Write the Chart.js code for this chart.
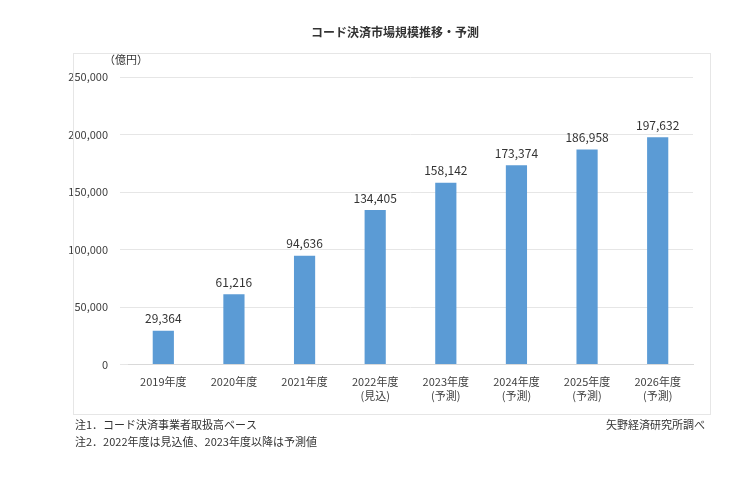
<!DOCTYPE html>
<html><head><meta charset="utf-8">
<script src="https://cdn.jsdelivr.net/npm/chart.js@4"></script>
<style>html,body{margin:0;background:#fff}#wrap{width:749px;height:478px}</style>
</head><body><div id="wrap"><canvas id="c"></canvas></div>
<script>
const years = ['2019年度', '2020年度', '2021年度', '2022年度', '2023年度', '2024年度', '2025年度', '2026年度'];
const subLabels = ['', '', '', '(見込)', '(予測)', '(予測)', '(予測)', '(予測)'];
const values = [29364, 61216, 94636, 134405, 158142, 173374, 186958, 197632];
const FONT = '"Noto Sans CJK JP", "Noto Sans", sans-serif';

const extras = {
    id: 'extras',
    afterDraw(chart) {
        const ctx = chart.ctx;
        ctx.save();
        ctx.fillStyle = '#333';
        ctx.textBaseline = 'middle';
        ctx.font = 'bold 12px ' + FONT;
        ctx.textAlign = 'center';
        ctx.fillText('コード決済市場規模推移・予測', 395, 32);
        ctx.font = '11px ' + FONT;
        ctx.textAlign = 'left';
        ctx.fillText('（億円）', 104, 60);
        ctx.fillText('注1．コード決済事業者取扱高ベース', 75, 425);
        ctx.fillText('注2．2022年度は見込値、2023年度以降は予測値', 75, 442);
        ctx.textAlign = 'right';
        ctx.fillText('矢野経済研究所調べ', 705, 425);
        // value labels above bars
        const meta = chart.getDatasetMeta(0);
        ctx.textAlign = 'center';
        ctx.font = '12px ' + FONT;
        meta.data.forEach((bar, i) => {
            ctx.fillText(values[i].toLocaleString('en-US'), bar.x, bar.y - 12);
        });
        ctx.strokeStyle = '#e6e6e6';
        ctx.lineWidth = 1;
        ctx.strokeRect(73.5, 53.5, 637, 361);
        ctx.restore();
    }
};

new Chart(document.getElementById('c'), {
    type: 'bar',
    data: {
        labels: years.map((y, i) => subLabels[i] ? [y, subLabels[i]] : y),
        datasets: [{
            data: values,
            backgroundColor: '#5B9BD5',
            barPercentage: 0.6,
            categoryPercentage: 0.5
        }]
    },
    plugins: [extras],
    options: {
        responsive: true,
        maintainAspectRatio: false,
        animation: false,
        layout: { padding: { left: 62, right: 56, top: 77, bottom: 73 } },
        plugins: { legend: { display: false }, tooltip: { enabled: false } },
        scales: {
            x: {
                grid: { display: false },
                border: { color: '#d9d9d9' },
                ticks: { color: '#404040', font: { size: 11, family: FONT }, maxRotation: 0 }
            },
            y: {
                min: 0, max: 250000,
                afterFit(scale) { scale.width = 66; },
                grid: { color: '#e6e6e6' },
                border: { display: false },
                ticks: {
                    stepSize: 50000, color: '#404040', padding: 12,
                    font: { size: 11, family: FONT },
                    callback: v => v.toLocaleString('en-US')
                }
            }
        }
    }
});
</script></body></html>
